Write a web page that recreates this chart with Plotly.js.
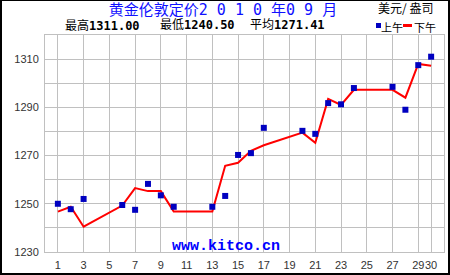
<!DOCTYPE html>
<html>
<head>
<meta charset="utf-8">
<script src="https://cdn.plot.ly/plotly-3.0.1.min.js"></script>
<style>
  html, body { margin: 0; padding: 0; background: #fff; }
  #wrap { position: relative; width: 450px; height: 275px; }
  #chart { width: 450px; height: 275px; }
  #frame { position: absolute; left: 0; top: 0; width: 450px; height: 275px; box-sizing: border-box;
           border-top: 1px solid #000; border-left: 2px solid #000; border-right: 2px solid #000; border-bottom: 2px solid #000;
           pointer-events: none; }
</style>
</head>
<body>
<div id="wrap"><div id="chart"></div><div id="frame"></div></div>
<script>
// ---- data (London gold fix, September 2010, USD / oz) ----
const days   = [1, 2, 3, 6, 7, 8, 9, 10, 13, 14, 15, 16, 17, 20, 21, 22, 23, 24, 27, 28, 29, 30];
const amFix  = [1250.00, 1247.75, 1252.00, 1249.50, 1247.50, 1258.25, 1253.50, 1248.75, 1248.75, 1253.25, 1270.25,
                1271.00, 1281.50, 1280.25, 1279.00, 1291.75, 1291.25, 1298.00, 1298.50, 1289.00, 1307.50, 1311.00];
const pmFix  = [1246.75, 1248.75, 1240.50, 1249.25, 1256.50, 1255.25, 1255.25, 1246.75, 1246.75, 1265.75, 1267.00,
                1272.00, 1274.25, 1279.50, 1275.25, 1293.50, 1291.00, 1297.25, 1297.25, 1294.00, 1308.00, 1307.25];
const xTickVals = [1, 3, 5, 7, 9, 11, 13, 15, 17, 19, 21, 23, 25, 27, 29, 30];
const yTickVals = [1230, 1250, 1270, 1290, 1310];
const titleText = "黄金伦敦定价2 0 1 0 年0 9 月";
const unitText  = "美元/ 盎司";
const statHigh  = "1311.00";
const statLow   = "1240.50";
const statAvg   = "1271.41";
const amName    = "上午";
const pmName    = "下午";
const siteText  = "www.kitco.cn";

// ---- figure ----
const W = 450, H = 275;
const M = { l: 45, r: 6, t: 35, b: 23 };
const pw = W - M.l - M.r, ph = H - M.t - M.b;
const px = v => (v - M.l) / pw;          // pixel x -> paper x
const py = v => (H - M.b - v) / ph;      // pixel y -> paper y

const cjk = '"Noto Sans CJK SC", sans-serif';
const monoCjk = '"DejaVu Sans Mono", "Noto Sans CJK SC", monospace';

const traces = [
  {
    x: days, y: pmFix, type: 'scatter', mode: 'lines', name: pmName,
    line: { color: '#ff0000', width: 2 }, hoverinfo: 'skip'
  },
  {
    x: days, y: amFix, type: 'scatter', mode: 'markers', name: amName,
    marker: { symbol: 'square', size: 6, color: '#0000c0', line: { width: 0 } }, hoverinfo: 'skip'
  }
];

const grid = '#c0c0c0';
const layout = {
  width: W, height: H,
  margin: M,
  paper_bgcolor: '#ffffff', plot_bgcolor: '#ffffff',
  showlegend: false,
  xaxis: {
    range: [0, 31], fixedrange: true,
    tickmode: 'array', tickvals: xTickVals, ticktext: xTickVals.map(String),
    tickangle: 0,
    showgrid: true, gridcolor: grid, gridwidth: 1,
    zeroline: false,
    showline: true, linecolor: grid, linewidth: 1, mirror: true,
    ticks: 'outside', ticklen: 3, tickcolor: 'rgba(0,0,0,0)',
    tickfont: { family: '"Liberation Sans", Arial, sans-serif', size: 11, color: '#333333' }
  },
  yaxis: {
    range: [1230, 1320], fixedrange: true,
    tickmode: 'array', tickvals: yTickVals, ticktext: yTickVals.map(String),
    showgrid: true, gridcolor: grid, gridwidth: 1,
    minor: { dtick: 10, showgrid: true, gridcolor: grid, gridwidth: 1, ticks: '' },
    zeroline: false,
    showline: true, linecolor: grid, linewidth: 1, mirror: true,
    ticks: 'outside', ticklen: 3, tickcolor: 'rgba(0,0,0,0)',
    tickfont: { family: '"Liberation Sans", Arial, sans-serif', size: 11, color: '#333333' }
  },
  title: {
    text: titleText,
    font: { family: monoCjk, size: 15, color: '#1010ff' },
    x: 223 / W, xanchor: 'center', xref: 'container',
    y: 1 - 10 / H, yanchor: 'middle', yref: 'container'
  },
  shapes: [
    { type: 'rect', xref: 'paper', yref: 'paper', x0: px(376), x1: px(381), y0: py(28), y1: py(23),
      fillcolor: '#0000c0', line: { width: 0 } },
    { type: 'line', xref: 'paper', yref: 'paper', x0: px(403), x1: px(412), y0: py(25.5), y1: py(25.5),
      line: { color: '#ff0000', width: 3 } }
  ],
  annotations: [
    { text: unitText, xref: 'paper', yref: 'paper', x: px(435), y: py(8), xanchor: 'right', yanchor: 'middle',
      showarrow: false, font: { family: cjk, size: 12, color: '#000000' } },
    { text: '最高<b>' + statHigh + '</b>', xref: 'paper', yref: 'paper', x: px(63), y: py(25.5), xanchor: 'left', yanchor: 'middle',
      showarrow: false, font: { family: monoCjk, size: 12, color: '#000000' } },
    { text: '最低<b>' + statLow + '</b>', xref: 'paper', yref: 'paper', x: px(158), y: py(25.5), xanchor: 'left', yanchor: 'middle',
      showarrow: false, font: { family: monoCjk, size: 12, color: '#000000' } },
    { text: '平均<b>' + statAvg + '</b>', xref: 'paper', yref: 'paper', x: px(248), y: py(25.5), xanchor: 'left', yanchor: 'middle',
      showarrow: false, font: { family: monoCjk, size: 12, color: '#000000' } },
    { text: amName, xref: 'paper', yref: 'paper', x: px(379), y: py(26.5), xanchor: 'left', yanchor: 'middle',
      showarrow: false, font: { family: cjk, size: 11, color: '#000000' } },
    { text: pmName, xref: 'paper', yref: 'paper', x: px(412), y: py(26.5), xanchor: 'left', yanchor: 'middle',
      showarrow: false, font: { family: cjk, size: 11, color: '#000000' } },
    { text: '<b>' + siteText + '</b>', xref: 'paper', yref: 'paper', x: px(225.5), y: py(246), xanchor: 'center', yanchor: 'middle',
      showarrow: false, font: { family: '"Liberation Mono", "DejaVu Sans Mono", monospace', size: 15, color: '#0000ff' } }
  ]
};

Plotly.newPlot('chart', traces, layout, { staticPlot: true, displayModeBar: false });
</script>
</body>
</html>
